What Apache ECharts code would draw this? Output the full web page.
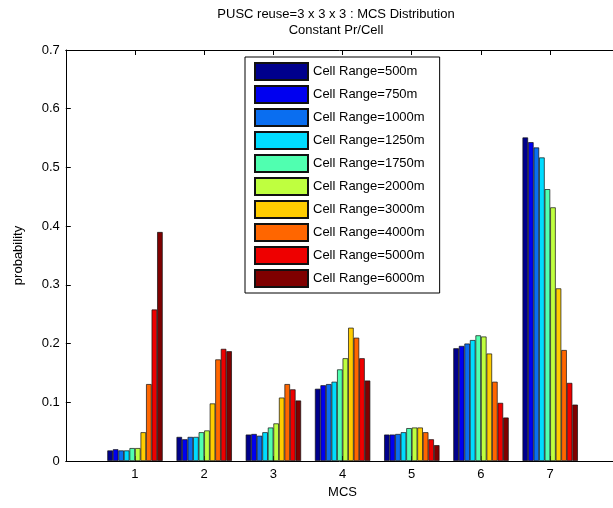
<!DOCTYPE html>
<html>
<head>
<meta charset="utf-8">
<script src="https://cdn.jsdelivr.net/npm/echarts@6/dist/echarts.min.js"></script>
<style>html,body{margin:0;padding:0;background:#fff;}#c{width:613px;height:508px;}</style>
</head>
<body>
<div id="c"></div>
<script>
var categories = ['1','2','3','4','5','6','7'];
var seriesNames = ['Cell Range=500m','Cell Range=750m','Cell Range=1000m','Cell Range=1250m','Cell Range=1750m','Cell Range=2000m','Cell Range=3000m','Cell Range=4000m','Cell Range=5000m','Cell Range=6000m'];
var r500  = [0.018, 0.041, 0.045, 0.123, 0.045, 0.192, 0.551];
var r750  = [0.020, 0.037, 0.046, 0.129, 0.045, 0.196, 0.543];
var r1000 = [0.018, 0.041, 0.043, 0.131, 0.046, 0.200, 0.534];
var r1250 = [0.018, 0.041, 0.049, 0.135, 0.049, 0.206, 0.517];
var r1750 = [0.022, 0.049, 0.057, 0.156, 0.056, 0.214, 0.463];
var r2000 = [0.022, 0.052, 0.064, 0.175, 0.057, 0.212, 0.432];
var r3000 = [0.049, 0.098, 0.108, 0.227, 0.057, 0.183, 0.294];
var r4000 = [0.131, 0.173, 0.131, 0.210, 0.049, 0.135, 0.189];
var r5000 = [0.258, 0.191, 0.122, 0.175, 0.037, 0.099, 0.133];
var r6000 = [0.390, 0.187, 0.103, 0.137, 0.027, 0.074, 0.096];
var yTicks = [0, 0.1, 0.2, 0.3, 0.4, 0.5, 0.6, 0.7];

var values = [r500, r750, r1000, r1250, r1750, r2000, r3000, r4000, r5000, r6000];
var colors = ['#00008C','#0000F0','#0A6EF0','#00DCFF','#50FFB0','#BFFF3F','#FFCC00','#FF6600','#EE0000','#7F0000'];
var FONT = "'Liberation Sans', Arial, Helvetica, sans-serif";

var series = values.map(function (v, i) {
  return {
    name: seriesNames[i], type: 'bar', xAxisIndex: 2, yAxisIndex: 1,
    data: v, barGap: '0%', barCategoryGap: '20%',
    itemStyle: { color: colors[i], borderColor: '#111', borderWidth: 0.7 }
  };
});

var chart = echarts.init(document.getElementById('c'), null, { renderer: 'canvas' });
chart.setOption({
  animation: false,
  backgroundColor: '#fff',
  textStyle: { fontFamily: FONT },
  title: {
    text: 'PUSC reuse=3 x 3 x 3 : MCS Distribution\nConstant Pr/Cell',
    left: 331, top: 1, textAlign: 'center',
    textStyle: { fontSize: 13, fontWeight: 'normal', color: '#000', lineHeight: 16, fontFamily: FONT }
  },
  legend: {
    orient: 'vertical', left: 245, top: 57,
    padding: [5, 15, 5, 9],
    borderColor: '#000', borderWidth: 1, backgroundColor: '#fff',
    itemWidth: 53, itemHeight: 17, itemGap: 4,
    icon: 'rect',
    textStyle: { fontSize: 13, lineHeight: 17, color: '#000', fontFamily: FONT },
    data: seriesNames
  },
  grid: [
    { left: 65.8, right: -6.2, top: 50, bottom: 47, outerBoundsMode: 'none', containLabel: false },
    { left: 100.4, right: 28.2, top: 50, bottom: 47, outerBoundsMode: 'none', containLabel: false }
  ],
  xAxis: [
    {
      gridIndex: 0, type: 'value', min: 0, max: 8, interval: 1, position: 'bottom',
      axisLine: { show: true, lineStyle: { color: '#000', width: 1 } },
      axisTick: { show: true, inside: true, length: 5, lineStyle: { color: '#000' } },
      axisLabel: { fontSize: 13, color: '#000', margin: 7, fontFamily: FONT,
        formatter: function (v) { return (v >= 1 && v <= 7) ? categories[v - 1] : ''; } },
      splitLine: { show: false },
      name: 'MCS', nameLocation: 'middle', nameGap: 25,
      nameTextStyle: { fontSize: 13, color: '#000', fontFamily: FONT }
    },
    {
      gridIndex: 0, type: 'value', min: 0, max: 8, interval: 1, position: 'top',
      axisLine: { show: true, lineStyle: { color: '#000', width: 1 } },
      axisTick: { show: true, inside: true, length: 5, lineStyle: { color: '#000' } },
      axisLabel: { show: false }, splitLine: { show: false }
    },
    {
      gridIndex: 1, type: 'category', data: categories, show: false, boundaryGap: true
    }
  ],
  yAxis: [
    {
      gridIndex: 0, type: 'value', min: 0, max: 0.7, interval: 0.1,
      axisLine: { show: true, lineStyle: { color: '#000', width: 1 } },
      axisTick: { show: true, inside: true, length: 5, lineStyle: { color: '#000' } },
      axisLabel: { fontSize: 13, color: '#000', margin: 6, fontFamily: FONT,
        formatter: function (v) {
          for (var k = 0; k < yTicks.length; k++) { if (Math.abs(yTicks[k] - v) < 1e-9) return String(yTicks[k]); }
          return '';
        } },
      splitLine: { show: false },
      name: 'probability', nameLocation: 'middle', nameRotate: 90, nameGap: 41,
      nameTextStyle: { fontSize: 13, color: '#000', fontFamily: FONT }
    },
    {
      gridIndex: 1, type: 'value', min: 0, max: 0.7, show: false
    }
  ],
  series: series
});
</script>
</body>
</html>
